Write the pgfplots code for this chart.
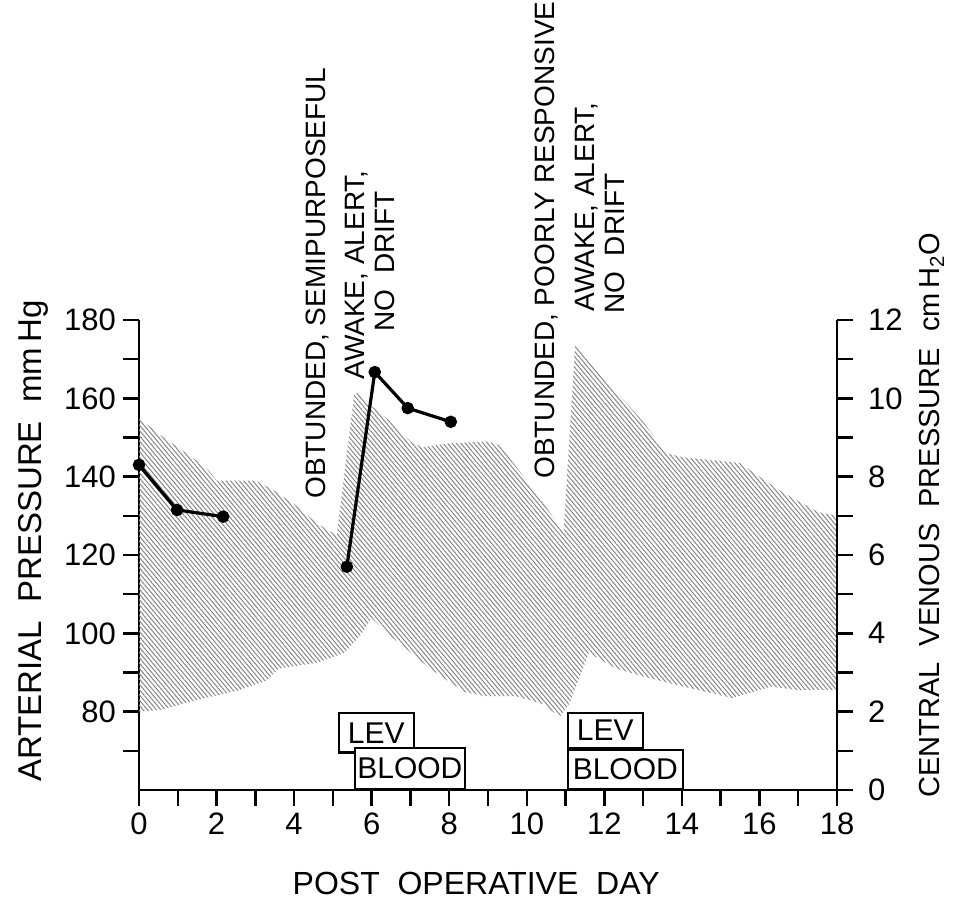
\documentclass[border=0pt]{standalone}
\usepackage{fontspec}
\setmainfont{Liberation Sans}
\usepackage{pgfplots}
\usepackage{pgfplotstable}
\pgfplotsset{compat=1.18}
\usetikzlibrary{patterns.meta}

% hatched arterial pressure band: upper (systolic) edge left to right,
% then lower (diastolic) edge right to left, mmHg
\pgfplotstableread{
day p
0 155
0.5 151
1.0 147.5
1.5 144
1.8 141.5
2.0 139
3.0 139
3.4 137
4.0 133
4.6 128
5.1 125
5.55 161
5.65 161.5
6.0 158
6.5 154
7.0 149
7.3 147.5
8.0 148.5
9.0 149
9.3 148
10.0 139
10.95 126
11.25 174
11.6 170
12.1 164
13.0 154
13.6 146
14.0 145
15.0 144
15.5 143.5
16.0 140
16.6 136
17.5 131
18.0 130
18.0 85.6
17.0 85.5
16.3 86.4
15.3 83.5
14.0 86.5
13.0 89
12.3 91
11.6 95
11.1 82
10.85 78.7
10.4 82
9.7 84
8.9 84
8.4 85
7.5 91
6.9 96
6.4 100
6.0 104
5.75 100
5.3 95
4.6 92.5
3.6 91
3.3 88
2.6 85.5
1.5 83
0.6 80.5
0 80
}\band

% central venous pressure (cmH2O), two separate runs of readings
\pgfplotstableread{
day cvp
0 8.3
0.98 7.15
2.17 6.98
}\cvpA
\pgfplotstableread{
day cvp
5.36 5.7
6.08 10.67
6.93 9.75
8.04 9.4
}\cvpB

\begin{document}
\begin{tikzpicture}
\path[use as bounding box] (-69.5pt,-54.5pt) rectangle (414pt,395pt);
\begin{axis}[
  at={(0,0)}, anchor=south west,
  scale only axis, width=349pt, height=235pt,
  xmin=0, xmax=18, ymin=60, ymax=180,
  axis x line*=bottom, axis y line*=left,
  xtick={0,2,...,18}, minor xtick={1,3,...,17},
  ytick={80,100,...,180}, minor ytick={70,90,...,170},
  tick align=outside, major tick length=8pt, minor tick length=8pt,
  axis line style={line width=1.2pt},
  tick style={black, line width=1.2pt},
  tick label style={font=\fontsize{15.5}{18}\selectfont},
  /pgf/number format/assume math mode=true,
  clip=false,
  xlabel={POST\ \ OPERATIVE\ \ DAY},
  xlabel style={at={(axis description cs:0.483,-0.198)}, anchor=center, font=\fontsize{16}{19}\selectfont},
  ylabel={ARTERIAL\ \ PRESSURE\ \ mm\,Hg},
  ylabel style={at={(axis description cs:-0.152,0.53)}, anchor=center, font=\fontsize{16.5}{19}\selectfont},
]
\addplot[draw=none, pattern={Lines[angle=-50,distance=1.7pt,line width=0.5pt]}, pattern color=black!48]
  table[x=day, y=p] {\band} -- cycle;

% treatment boxes
\draw[line width=1.1pt, fill=white] (axis cs:5.15,69.6) rectangle (axis cs:7.09,79.6);
\node[font=\fontsize{15}{18}\selectfont] at (axis cs:6.12,74.6) {LEV};
\draw[line width=1.1pt, fill=white] (axis cs:5.57,60.3) rectangle (axis cs:8.40,70.7);
\node[font=\fontsize{15}{18}\selectfont] at (axis cs:6.985,65.5) {BLOOD};
\draw[line width=1.1pt, fill=white] (axis cs:11.06,70.7) rectangle (axis cs:12.99,79.6);
\node[font=\fontsize{15}{18}\selectfont] at (axis cs:12.025,75.15) {LEV};
\draw[line width=1.1pt, fill=white] (axis cs:11.06,60.3) rectangle (axis cs:14.02,70.2);
\node[font=\fontsize{15}{18}\selectfont] at (axis cs:12.54,65.25) {BLOOD};

% clinical notes
\node[rotate=90, font=\fontsize{14}{17}\selectfont] at (axis cs:4.61,189.4) {OBTUNDED,\ SEMIPURPOSEFUL};
\node[rotate=90, font=\fontsize{14}{17}\selectfont] at (axis cs:5.62,191.5) {AWAKE,\ ALERT,};
\node[rotate=90, font=\fontsize{14}{17}\selectfont] at (axis cs:6.35,195.0) {NO\ \ DRIFT};
\node[rotate=90, font=\fontsize{14}{17}\selectfont] at (axis cs:10.52,200.4) {OBTUNDED,\ POORLY\ RESPONSIVE};
\node[rotate=90, font=\fontsize{14}{17}\selectfont] at (axis cs:11.55,208.9) {AWAKE,\ ALERT,};
\node[rotate=90, font=\fontsize{14}{17}\selectfont] at (axis cs:12.27,199.5) {NO\ \ DRIFT};
\end{axis}

\begin{axis}[
  at={(0,0)}, anchor=south west,
  scale only axis, width=349pt, height=235pt,
  xmin=0, xmax=18, ymin=0, ymax=12,
  hide x axis, axis y line*=right,
  ytick={0,2,...,12}, minor ytick={1,3,...,11},
  tick align=outside, major tick length=8pt, minor tick length=8pt,
  axis line style={line width=1.2pt},
  tick style={black, line width=1.2pt},
  tick label style={font=\fontsize{15.5}{18}\selectfont},
  yticklabel style={xshift=4pt},
  /pgf/number format/assume math mode=true,
  clip=false,
  ylabel={CENTRAL\ \ VENOUS\ \ PRESSURE\ \ cm\,H\textsubscript{2}O},
  ylabel style={at={(axis description cs:1.136,0.585)}, anchor=center, font=\fontsize{14.5}{17}\selectfont},
]
\addplot[black, line width=1.6pt, mark=*, mark size=2.3pt] table[x=day, y=cvp] {\cvpA};
\addplot[black, line width=1.6pt, mark=*, mark size=2.3pt] table[x=day, y=cvp] {\cvpB};
\end{axis}
\end{tikzpicture}
\end{document}
